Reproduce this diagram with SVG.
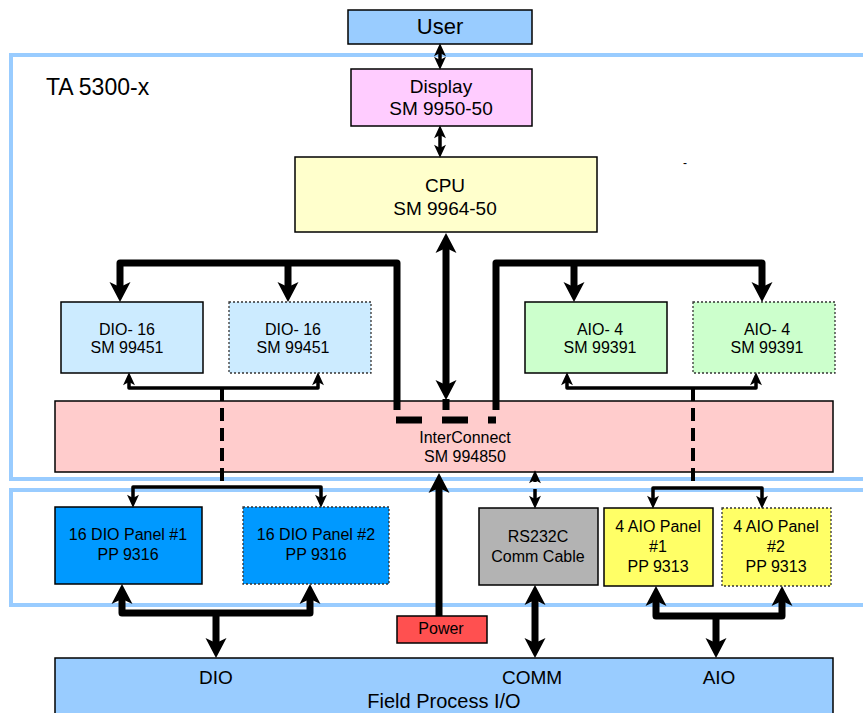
<svg xmlns="http://www.w3.org/2000/svg" width="863" height="713" viewBox="0 0 863 713">
<style>
text{font-family:"Liberation Sans",Arial,sans-serif;fill:#000;text-anchor:middle}
.frame{fill:none;stroke:#99CCFF;stroke-width:4}
.box{stroke:#000;stroke-width:1.5}
.dot{stroke:#333;stroke-width:1.3;stroke-dasharray:2 2}
.t16{font-size:16px}
.t19{font-size:19px}
.thin{fill:none;stroke:#000;stroke-width:3.5;stroke-linejoin:round}
.thick{fill:none;stroke:#000;stroke-width:7;stroke-linejoin:round}
.dash4{fill:none;stroke:#000;stroke-width:4;stroke-dasharray:13 7}
</style>
<defs>
<marker id="hs" markerUnits="userSpaceOnUse" markerWidth="13" markerHeight="13" viewBox="0 -6 12 12" refX="4" refY="0" orient="auto-start-reverse" overflow="visible">
<path d="M0,-5.5 L12,0 L0,5.5 L3,0 Z" fill="#000"/>
</marker>
<marker id="hb" markerUnits="userSpaceOnUse" markerWidth="21" markerHeight="22" viewBox="0 -11 20 22" refX="8" refY="0" orient="auto-start-reverse" overflow="visible">
<path d="M0,-10.5 L20,0 L0,10.5 L5,0 Z" fill="#000"/>
</marker>
</defs>
<rect width="863" height="713" fill="#fff"/>
<g id="frames">
<rect class="frame" x="11" y="55" width="900" height="424"/>
<rect class="frame" x="11" y="490" width="900" height="115"/>
<text x="46" y="95" style="font-size:23px;text-anchor:start">TA 5300-x</text>
<text x="685" y="167" style="font-size:12px">-</text>
</g>
<g id="user"><rect class="box" x="348" y="10" width="184" height="34" fill="#99CCFF"/><text x="440" y="34" style="font-size:22px">User</text></g>
<g id="display"><rect class="box" x="351" y="69" width="181" height="57" fill="#FFCCFF"/><text class="t19" x="441" y="93">Display</text><text class="t19" x="441" y="115">SM 9950-50</text></g>
<g id="cpu"><rect class="box" x="295" y="157" width="302" height="75" fill="#FFFFCC"/><text class="t19" x="445" y="192">CPU</text><text class="t19" x="445" y="215">SM 9964-50</text></g>
<g id="dio1"><rect class="box" x="61" y="302" width="142" height="71" fill="#CCEBFF"/><text class="t16" x="127" y="335">DIO- 16</text><text class="t16" x="127" y="353">SM 99451</text></g>
<g id="dio2"><rect class="dot" x="229" y="302" width="142" height="71" fill="#CCEBFF"/><text class="t16" x="293" y="335">DIO- 16</text><text class="t16" x="293" y="353">SM 99451</text></g>
<g id="aio1"><rect class="box" x="525" y="302" width="142" height="71" fill="#CCFFCC"/><text class="t16" x="600" y="335">AIO- 4</text><text class="t16" x="600" y="353">SM 99391</text></g>
<g id="aio2"><rect class="dot" x="693" y="302" width="142" height="71" fill="#CCFFCC"/><text class="t16" x="767" y="335">AIO- 4</text><text class="t16" x="767" y="353">SM 99391</text></g>
<g id="interconnect"><rect class="box" x="55" y="401" width="778" height="71" fill="#FFCCCC"/><text class="t16" x="465" y="443">InterConnect</text><text class="t16" x="465" y="462">SM 994850</text></g>
<g id="dio-panel1"><rect class="box" x="55" y="507" width="147" height="77" fill="#0099FF"/><text class="t16" x="128" y="540">16 DIO Panel #1</text><text class="t16" x="128" y="560">PP 9316</text></g>
<g id="dio-panel2"><rect class="dot" x="243" y="507" width="146" height="77" fill="#0099FF"/><text class="t16" x="316" y="540">16 DIO Panel #2</text><text class="t16" x="316" y="560">PP 9316</text></g>
<g id="rs232"><rect class="box" x="479" y="508" width="119" height="77" fill="#B3B3B3"/><text class="t16" x="538" y="542">RS232C</text><text class="t16" x="538" y="562">Comm Cable</text></g>
<g id="aio-panel1"><rect class="box" x="604" y="508" width="109" height="78" fill="#FFFF66"/><text class="t16" x="658" y="532">4 AIO Panel</text><text class="t16" x="658" y="552">#1</text><text class="t16" x="658" y="572">PP 9313</text></g>
<g id="aio-panel2"><rect class="dot" x="722" y="508" width="109" height="78" fill="#FFFF66"/><text class="t16" x="776" y="532">4 AIO Panel</text><text class="t16" x="776" y="552">#2</text><text class="t16" x="776" y="572">PP 9313</text></g>
<g id="power"><rect class="box" x="397" y="616" width="90" height="27" fill="#FF5050"/><text class="t16" x="441" y="634">Power</text></g>
<g id="field"><rect class="box" x="55" y="658" width="778" height="70" fill="#99CCFF"/><text class="t19" x="216" y="684">DIO</text><text class="t19" x="532" y="684">COMM</text><text class="t19" x="719" y="684">AIO</text><text x="444" y="708" style="font-size:20px">Field Process I/O</text></g>
<g id="connectors">
<path class="thin" d="M440,52 V61" marker-start="url(#hs)" marker-end="url(#hs)"/>
<path class="thin" d="M440,134 V149" marker-start="url(#hs)" marker-end="url(#hs)"/>
<path class="thick" d="M446,245 V388" marker-start="url(#hb)" marker-end="url(#hb)"/>
<path class="thick" d="M446,399 V410"/>
<path class="thick" d="M397,410 V263 H120 V290" marker-end="url(#hb)"/>
<path class="thick" d="M288,263 V290" marker-end="url(#hb)"/>
<path class="thick" d="M496,410 V263 H762 V290" marker-end="url(#hb)"/>
<path class="thick" d="M574,263 V290" marker-end="url(#hb)"/>
<path d="M396,420 H496" stroke="#000" stroke-width="7" stroke-dasharray="26 20" fill="none"/>
<path class="thin" d="M129,381 V388 H318 V381" marker-start="url(#hs)" marker-end="url(#hs)"/>
<path class="dash4" d="M222,388 V487"/>
<path class="thin" d="M133,499 V487 H321 V499" marker-start="url(#hs)" marker-end="url(#hs)"/>
<path class="thin" d="M567,381 V388 H756 V381" marker-start="url(#hs)" marker-end="url(#hs)"/>
<path class="dash4" d="M693,388 V488"/>
<path class="thin" d="M653,500 V488 H762 V500" marker-start="url(#hs)" marker-end="url(#hs)"/>
<path class="thin" d="M535,482 V479" marker-end="url(#hs)"/>
<path class="thin" d="M535,489 V500" marker-end="url(#hs)"/>
<path class="thick" d="M122,596 V613 H310 V596" marker-start="url(#hb)" marker-end="url(#hb)"/>
<path class="thick" d="M216,613 V646" marker-end="url(#hb)"/>
<path class="thick" d="M656,598 V616 H782 V598" marker-start="url(#hb)" marker-end="url(#hb)"/>
<path class="thick" d="M716,616 V646" marker-end="url(#hb)"/>
<path class="thick" d="M535,597 V646" marker-start="url(#hb)" marker-end="url(#hb)"/>
<path class="thick" d="M439,616 V485" marker-end="url(#hb)"/>
</g>
</svg>
